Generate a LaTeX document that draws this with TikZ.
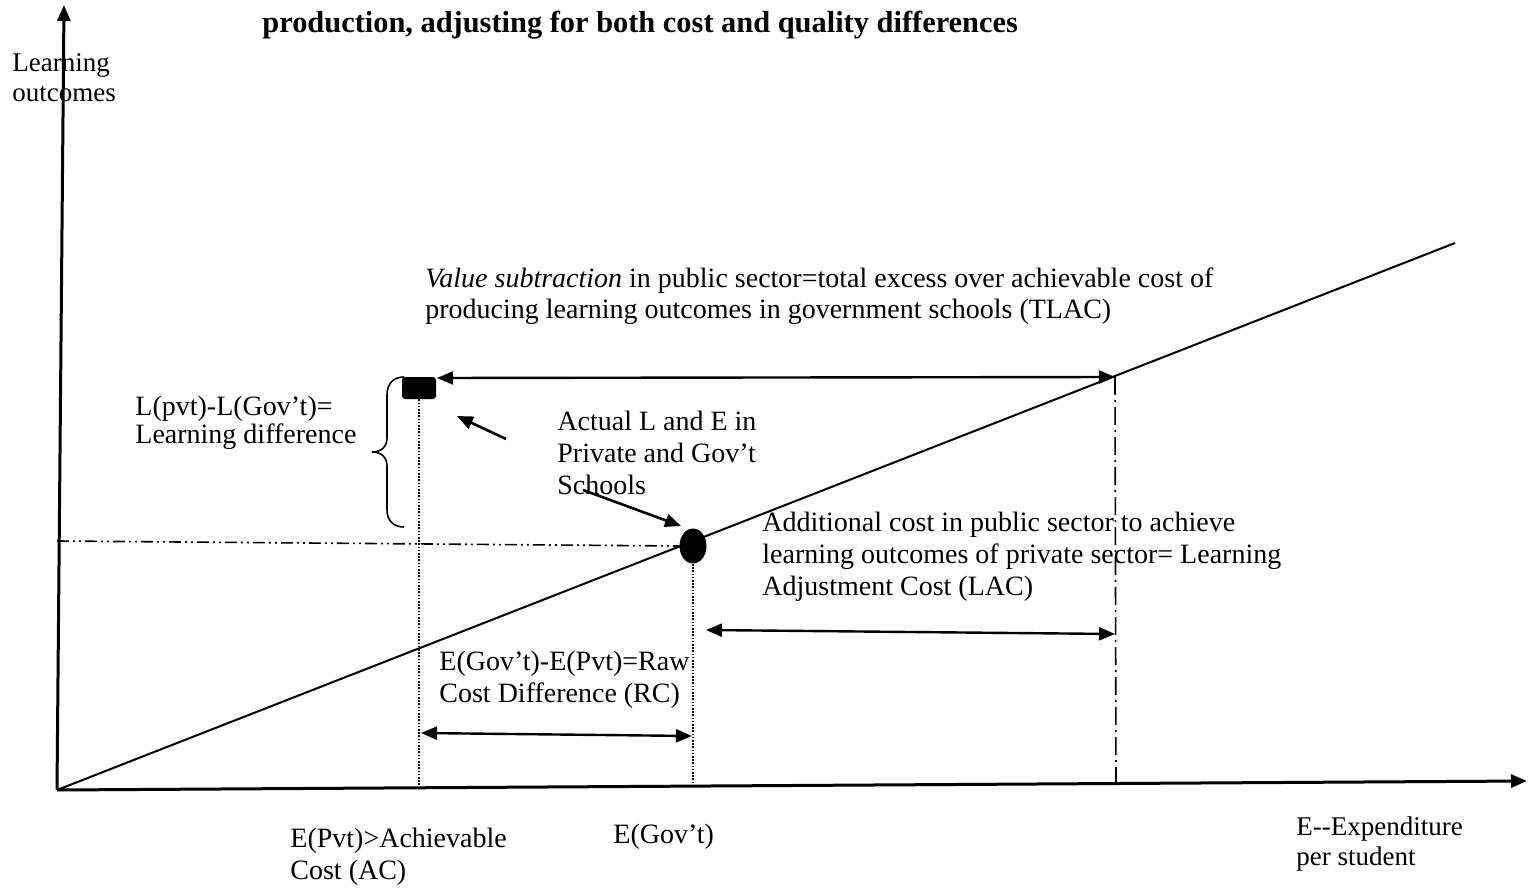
\documentclass[tikz,border=0pt]{standalone}
\usepackage{fontspec}
\setmainfont{Liberation Serif}
\usetikzlibrary{arrows.meta,shapes.geometric}
\begin{document}
\begin{tikzpicture}[x=0.5pt,y=-0.5pt,
  lbl/.style={inner sep=0pt, anchor=base west, align=left, font=\fontsize{14}{16}\selectfont},
  ldlbl/.style={inner sep=0pt, anchor=base west, align=left, font=\fontsize{14}{14}\selectfont},
  smalllbl/.style={inner sep=0pt, anchor=base west, align=left, font=\fontsize{13.5}{15}\selectfont},
  ttl/.style={inner sep=0pt, anchor=base west, font=\fontsize{15.2}{16}\selectfont\bfseries},
  axis/.style={line width=1.5pt,-{Triangle[length=8pt,width=6.5pt]}},
  dbl/.style={line width=1.2pt,{Triangle[length=8pt,width=6.5pt]}-{Triangle[length=8pt,width=6.5pt]}},
  ptr/.style={line width=1.3pt,-{Triangle[length=8pt,width=6.5pt]}},
  dotv/.style={line width=0.6pt,dash pattern=on 0.8pt off 0.8pt},
  ddot/.style={line width=0.8pt,dash pattern=on 6pt off 2pt on 1pt off 2pt on 1pt off 2pt},
  dashdot/.style={line width=0.8pt,dash pattern=on 9pt off 2.5pt on 1pt off 2.5pt}]
\useasboundingbox (0,0) rectangle (1528,888);
% key points
\coordinate (O) at (57,790);
\coordinate (Ytop) at (64,5);
\coordinate (Xend) at (1527,781);
\coordinate (Lend) at (1455,243);
\coordinate (T) at (1115,377);
\coordinate (Tb) at (1116,784);
\coordinate (tl) at (437,378);
\coordinate (pb) at (419,787);
\coordinate (gb) at (693,786);
\coordinate (hl) at (57,541);
\coordinate (rcL) at (421,733);
\coordinate (rcR) at (692,736);
\coordinate (lacL) at (706,630);
\coordinate (lacR) at (1115,634);
\coordinate (a1s) at (506,439);
\coordinate (a1e) at (457,416);
\coordinate (a2s) at (583,490);
\coordinate (a2e) at (681,526);
% markers
\node[fill=black, rounded corners=1.5pt, minimum width=17pt, minimum height=11pt, inner sep=0pt] (pvt) at (419,388) {};
\node[ellipse, fill=black, minimum width=13.5pt, minimum height=17.5pt, inner sep=0pt] (gov) at (693,546) {};
% axes
\draw[axis] (O) -- (Ytop);
\draw[axis] (O) -- (Xend);
% cost line
\draw[line width=1pt] (O) -- (Lend);
% guide lines
\draw[ddot] (hl) -- (gov.west);
\draw[dotv] (pvt.south) -- (pb);
\draw[dotv] (gov.south) -- (gb);
\draw[dashdot] (T) -- (Tb);
% double arrows
\draw[dbl] (tl) -- (T);
\draw[dbl] (rcL) -- (rcR);
\draw[dbl] (lacL) -- (lacR);
% pointers
\draw[ptr] (a1s) -- (a1e);
\draw[ptr] (a2s) -- (a2e);
% brace
\draw[line width=0.8pt] (404,377) .. controls (394,377) and (387,383) .. (387,395) -- (387,438) .. controls (387,447) and (381,452) .. (372,452) .. controls (381,452) and (387,457) .. (387,466) -- (387,510) .. controls (387,521) and (394,527) .. (404,527);
% texts (base anchor = baseline of last line)
\node[ttl] (title) at (262,33) {production, adjusting for both cost and quality differences};
\node[smalllbl] (ylab) at (12,102) {Learning\\outcomes};
\node[lbl] (vs) at (425,319) {\textit{Value subtraction} in public sector=total excess over achievable cost of\\producing learning outcomes in government schools (TLAC)};
\node[ldlbl] (ld) at (135,443) {L(pvt)-L(Gov’t)=\\Learning difference};
\node[lbl] (act) at (557,494) {Actual L and E in\\Private and Gov’t\\Schools};
\node[lbl] (lac) at (762,595) {Additional cost in public sector to achieve\\learning outcomes of private sector= Learning\\Adjustment Cost (LAC)};
\node[lbl] (rc) at (439,702) {E(Gov’t)-E(Pvt)=Raw\\Cost Difference (RC)};
\node[lbl] (ep) at (290,879) {E(Pvt)>Achievable\\Cost (AC)};
\node[lbl] (eg) at (613,843) {E(Gov’t)};
\node[smalllbl] (xlab) at (1296,865) {E-{}-Expenditure\\per student};
\end{tikzpicture}
\end{document}
